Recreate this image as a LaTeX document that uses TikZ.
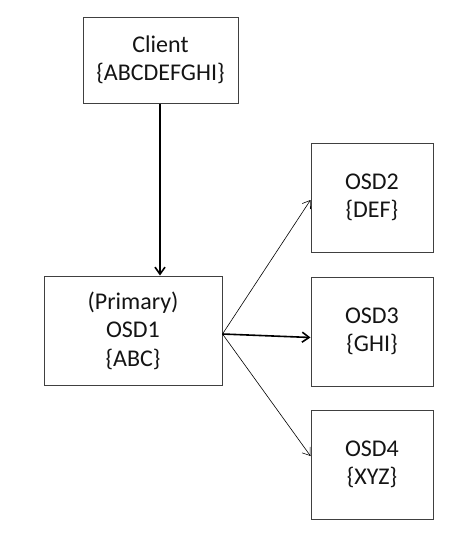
\documentclass[tikz,border=0pt]{standalone}
\usepackage{fontspec}
\setmainfont{Carlito}
\usepackage{tikz}
\usetikzlibrary{arrows.meta, positioning}
\definecolor{cBox}{HTML}{404040}
\definecolor{cText}{HTML}{141414}

\begin{document}
\begin{tikzpicture}[x=1pt, y=-1pt,
  osd/.style={draw=cBox, line width=1pt, minimum width=122pt, minimum height=109pt, align=center,
    inner sep=0pt, text=cText, font=\fontsize{24}{28.5}\selectfont},
  link/.style={-{Straight Barb[length=7pt, width=10pt]}, line width=0.6pt},
  bold link/.style={link, line width=1.6pt},
]
\useasboundingbox (0,0) rectangle (462,546);
\node[osd, minimum width=155pt, minimum height=86pt] (client) at (160.5,60) {Client\\\{ABCDEFGHI\}};
\node[osd, minimum width=178pt] (osd1) at (133,330.5) {(Primary)\\OSD1\\\{ABC\}};
\node[osd] (osd2) at (372,197.5) {OSD2\\\{DEF\}};
\node[osd, below=24pt of osd2] (osd3) {OSD3\\\{GHI\}};
\node[osd, below=23pt of osd3] (osd4) {OSD4\\\{XYZ\}};
\draw[bold link] ([xshift=-0.5pt]client.south) -- ([xshift=-0.5pt]client.south |- osd1.north);
\draw[link] ([yshift=-3.5pt]osd1.east) -- ([yshift=-2.5pt]osd2.west);
\draw[bold link] ([yshift=-3.5pt]osd1.east) -- ([yshift=-6pt]osd3.west);
\draw[link] ([yshift=-3.5pt]osd1.east) -- ([yshift=8.5pt]osd4.west);
\end{tikzpicture}
\end{document}
